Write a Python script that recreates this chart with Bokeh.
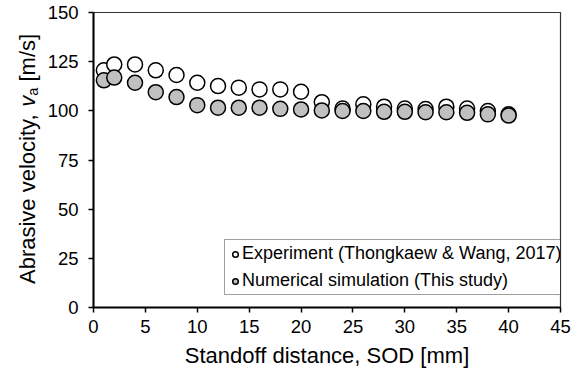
import math
from bokeh.plotting import figure
from bokeh.layouts import row
from bokeh.models import Range1d, Legend, LegendItem, FixedTicker, ColumnDataSource
from bokeh.core.properties import value
from bokeh.embed import file_html
from bokeh.resources import INLINE

# ---- data ----
sod = [1, 2, 4, 6, 8, 10, 12, 14, 16, 18, 20, 22, 24, 26, 28, 30, 32, 34, 36, 38, 40]
experiment = [120.6, 123.6, 123.6, 120.6, 118.2, 114.3, 112.6, 111.8, 110.9, 110.9, 109.7,
              104.4, 101.2, 103.3, 102.1, 101.2, 100.9, 102.1, 101.2, 99.9, 98.2]
simulation = [115.5, 116.9, 114.3, 109.5, 107.0, 102.9, 101.6, 101.6, 101.6, 101.0, 100.7,
              100.2, 99.9, 99.9, 99.5, 99.5, 99.3, 99.3, 99.0, 98.2, 97.6]
x_ticks = [0, 5, 10, 15, 20, 25, 30, 35, 40, 45]
y_ticks = [0, 25, 50, 75, 100, 125, 150]
label_exp = "Experiment (Thongkaew & Wang, 2017)"
label_sim = "Numerical simulation (This study)"
x_title = "Standoff distance, SOD [mm]"
y_title_parts = ["Abrasive velocity,", "v", "a", "[m/s]"]

FONT = "Liberation Sans"
W_TITLE = 44
TOP, BOTTOM = 12, 69

yr = Range1d(0, 150)
PX_PER_Y = (376 - TOP - BOTTOM) / 150.0

# ---- narrow strip holding the y-axis title ----
t = figure(width=W_TITLE, height=376, output_backend="svg", toolbar_location=None,
           x_range=Range1d(0, W_TITLE), y_range=yr,
           x_axis_location=None, y_axis_location=None,
           min_border_left=0, min_border_right=0,
           min_border_top=TOP, min_border_bottom=BOTTOM)
t.grid.visible = False
t.outline_line_color = None
t.border_fill_color = "white"
t.background_fill_color = "white"


def ty(px):
    # offset in pixels above the frame bottom -> y data units
    return px / PX_PER_Y


xc = 27
s0 = 23.5
common = dict(angle=math.pi / 2, text_font=value(FONT), text_color="black",
              text_align="left", text_baseline="middle")
t.text(x=[xc], y=[ty(s0)], text=[y_title_parts[0]], text_font_size="22px", **common)
t.text(x=[xc], y=[ty(s0 + 177.3)], text=[y_title_parts[1]], text_font_size="22px",
       text_font_style="italic", **common)
t.text(x=[xc + 5], y=[ty(s0 + 188.3)], text=[y_title_parts[2]], text_font_size="14.5px",
       **common)
t.text(x=[xc], y=[ty(s0 + 202.5)], text=[y_title_parts[3]], text_font_size="22px",
       **common)

# ---- main chart ----
p = figure(width=586 - W_TITLE, height=376, output_backend="svg", toolbar_location=None,
           x_range=Range1d(0, 45), y_range=yr,
           min_border_left=93 - W_TITLE, min_border_right=26, min_border_top=TOP,
           min_border_bottom=BOTTOM)
p.grid.visible = False
p.outline_line_color = "#333333"
p.outline_line_width = 1.2
p.background_fill_color = "white"
p.border_fill_color = "white"

for ax in (p.xaxis[0], p.yaxis[0]):
    ax.axis_line_color = "black"
    ax.axis_line_width = 2
    ax.major_tick_line_color = "black"
    ax.major_tick_line_width = 1.5
    ax.major_tick_out = 5
    ax.major_tick_in = 0
    ax.minor_tick_line_color = None
    ax.major_label_text_font = FONT
    ax.major_label_text_font_size = "18.5px"
    ax.major_label_text_color = "black"

p.xaxis.ticker = FixedTicker(ticks=x_ticks)
p.yaxis.ticker = FixedTicker(ticks=y_ticks)
p.xaxis.major_label_standoff = 7
p.yaxis.major_label_standoff = 10
p.xaxis.axis_label = x_title
p.xaxis.axis_label_text_font = FONT
p.xaxis.axis_label_text_font_style = "normal"
p.xaxis.axis_label_text_font_size = "22px"
p.xaxis.axis_label_text_color = "black"
p.xaxis.axis_label_standoff = 7

src = ColumnDataSource(dict(x=sod, exp=experiment, sim=simulation))
r1 = p.scatter("x", "exp", source=src, size=15, fill_color="white",
               line_color="black", line_width=1.5)
r2 = p.scatter("x", "sim", source=src, size=15, fill_color="#c0c0c0",
               line_color="black", line_width=1.5)

legend = Legend(items=[LegendItem(label=label_exp, renderers=[r1]),
                       LegendItem(label=label_sim, renderers=[r2])],
                location=(131, 12), orientation="vertical",
                border_line_color="#404040", border_line_width=1,
                background_fill_color="white", background_fill_alpha=1,
                padding=3, margin=0, spacing=6,
                glyph_width=14, glyph_height=18, label_standoff=0,
                label_text_font=FONT, label_text_font_size="18px",
                label_text_color="black")
p.add_layout(legend)

layout = row(t, p, spacing=0)
open("out.html", "w").write(file_html(layout, INLINE))
